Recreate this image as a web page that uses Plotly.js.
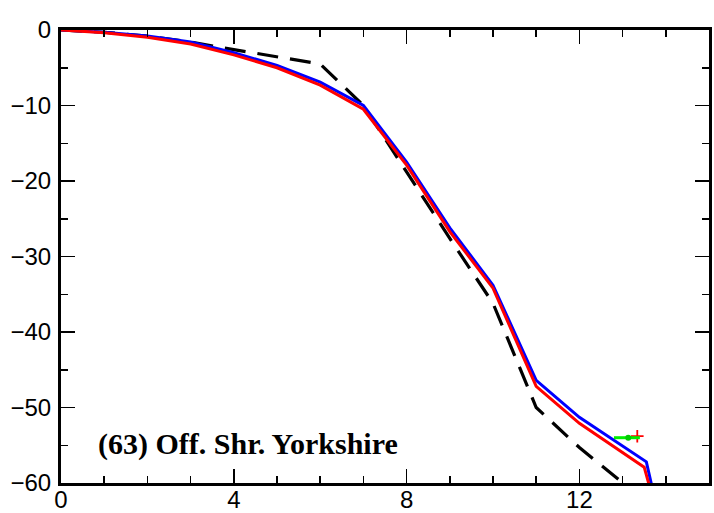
<!DOCTYPE html>
<html>
<head>
<meta charset="utf-8">
<script src="https://cdn.plot.ly/plotly-3.0.1.min.js"></script>
<style>html,body{margin:0;padding:0;background:#fff;}#chart{width:714px;height:513px;}</style>
</head>
<body>
<div id="chart"></div>
<script>
// Depth (x) and values
const xDash = [0, 1, 2, 3, 4, 5, 6, 7, 8, 9, 10, 11, 12, 13, 13.5];
const yDash = [0, -0.3, -0.8, -1.6, -2.6, -3.5, -4.5, -10.0, -18.8, -27.6, -36.2, -50.0, -55.3, -60.0, -62.3];

const xBlue = [0, 1, 2, 3, 4, 5, 6, 7, 8, 9, 10, 11, 12, 13.55, 13.7];
const yBlue = [0, -0.3, -0.8, -1.6, -3.0, -4.7, -6.9, -10.0, -17.5, -26.2, -33.8, -46.4, -51.3, -57.2, -61.0];

const xRed = [0, 1, 2, 3, 4, 5, 6, 7, 8, 9, 10, 11, 12, 13.5, 13.65];
const yRed = [0, -0.35, -0.95, -1.85, -3.3, -5.0, -7.3, -10.5, -17.9, -26.7, -34.2, -47.2, -52.1, -57.9, -61.0];

const xGreenBar = [12.8, 13.4];
const yGreenBar = [-54.0, -54.0];
const xGreenDot = [13.13];
const yGreenDot = [-54.0];
const xRedPlus = [13.34];
const yRedPlus = [-53.8];

const xTicks = [0, 4, 8, 12];
const yTicks = [0, -10, -20, -30, -40, -50, -60];
const label = "(63) Off. Shr. Yorkshire";

const traces = [
  {x: xDash, y: yDash, mode: 'lines', line: {color: '#000', width: 3.2, dash: '21px,12px'}, hoverinfo: 'skip'},
  {x: xBlue, y: yBlue, mode: 'lines', line: {color: '#0000ff', width: 3}, hoverinfo: 'skip'},
  {x: xRed, y: yRed, mode: 'lines', line: {color: '#ff0000', width: 3}, hoverinfo: 'skip'},
  {x: xRedPlus, y: yRedPlus, mode: 'markers', marker: {symbol: 'cross-thin', size: 9, line: {color: '#ff0000', width: 1.8}}, hoverinfo: 'skip'},
  {x: xGreenBar, y: yGreenBar, mode: 'lines', line: {color: '#00ee00', width: 3}, hoverinfo: 'skip'},
  {x: xGreenDot, y: yGreenDot, mode: 'markers', marker: {color: '#00cc00', size: 6}, hoverinfo: 'skip'}
];

const axisCommon = {
  showline: true, linecolor: '#000', linewidth: 3, mirror: 'allticks',
  ticks: 'inside', ticklen: 14, tickwidth: 1.5, tickcolor: '#000',
  showgrid: false, zeroline: false,
  tickfont: {family: 'Liberation Sans, Arial, sans-serif', size: 24, color: '#000'}
};

const layout = {
  width: 714, height: 513,
  margin: {l: 61, r: 5, t: 30, b: 30, pad: 0},
  paper_bgcolor: '#fff', plot_bgcolor: '#fff',
  showlegend: false,
  xaxis: Object.assign({}, axisCommon, {
    range: [0, 15], tickvals: xTicks, ticktext: xTicks.map(String),
    ticklabelstandoff: -7,
    minor: {dtick: 1, ticks: 'inside', ticklen: 7, tickwidth: 1.5, tickcolor: '#000'}
  }),
  yaxis: Object.assign({}, axisCommon, {
    range: [-60, 0], tickvals: yTicks, ticktext: yTicks.map(v => v < 0 ? '\u2212' + Math.abs(v) : String(v)),
    ticklabelstandoff: 2,
    minor: {dtick: 5, ticks: 'inside', ticklen: 7, tickwidth: 1.5, tickcolor: '#000'}
  }),
  annotations: [{
    x: 0.8, y: -54.8, xref: 'x', yref: 'y', xanchor: 'left', yanchor: 'middle',
    text: '<b>' + label + '</b>', showarrow: false,
    font: {family: 'Liberation Serif, Times New Roman, serif', size: 30, color: '#000'}
  }]
};

Plotly.newPlot('chart', traces, layout, {displayModeBar: false, staticPlot: true});
</script>
</body>
</html>
